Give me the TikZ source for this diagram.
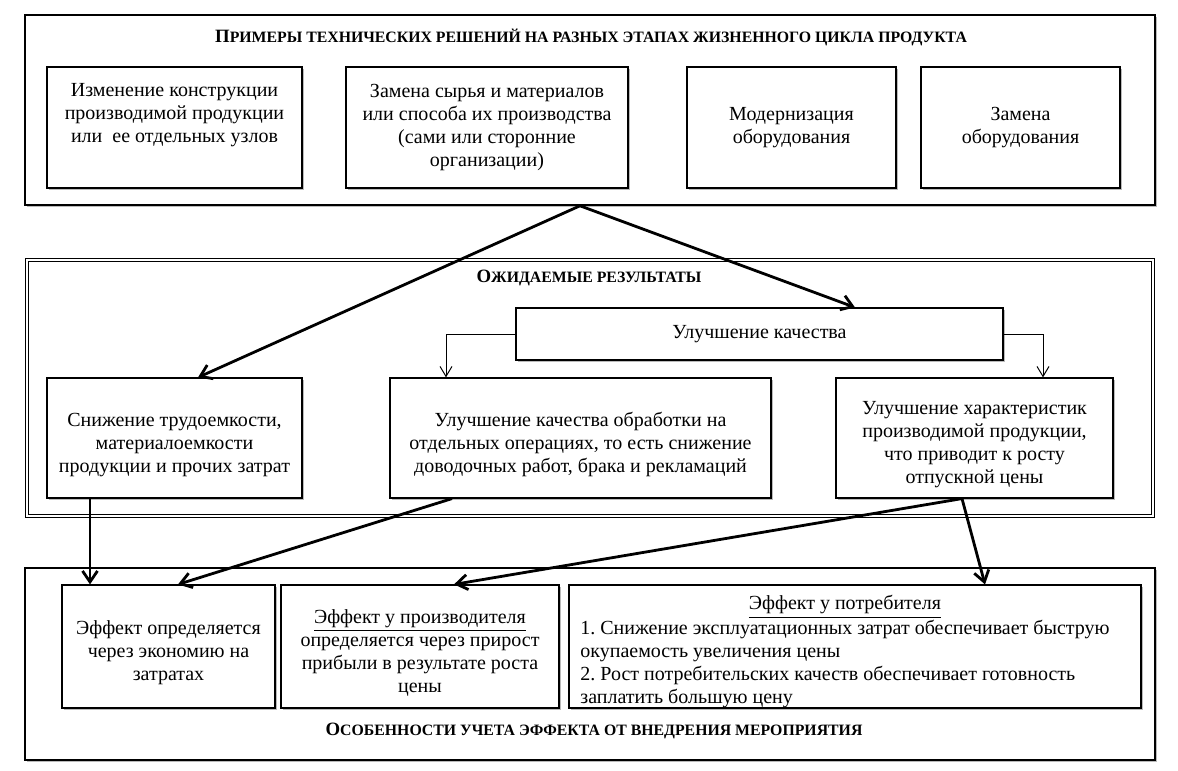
\documentclass[tikz,border=0pt]{standalone}
\usepackage{fontspec}
\setmainfont{Liberation Serif}
\usetikzlibrary{arrows.meta,shadows}
\usepackage{xcolor}
\definecolor{shadowgray}{RGB}{140,140,140}
\setlength\parindent{0pt}
\frenchspacing
\newcommand{\capfirst}[1]{{\fontsize{9.4}{10}\selectfont#1}}
\newcommand{\toppad}{\rule{0pt}{13.5pt}}

\tikzset{
	blk/.style={draw,line width=0.6pt,fill=white,align=center,inner sep=3pt,font=\fontsize{10}{11.5}\selectfont,drop shadow={shadow xshift=1pt,shadow yshift=-1pt,fill=shadowgray,opacity=0.6}},
	frm/.style={draw,line width=0.8pt,fill=white,drop shadow={shadow xshift=1pt,shadow yshift=-1pt,fill=shadowgray,opacity=0.6}},
	ttl/.style={font=\bfseries\fontsize{7.9}{10}\selectfont},
	big/.style={-{Straight Barb[length=5.5pt,width=7.5pt]},line width=1.4pt},
	thn/.style={-{Straight Barb[length=5pt,width=6pt]},line width=0.5pt}
}

\begin{document}
\begin{tikzpicture}[x=0.5pt,y=-0.5pt]
	\useasboundingbox (0,0) rectangle (1178,771);
	\node(prim) at (590,110)[frm,minimum width=565pt,minimum height=95pt]{};
	\node(ozh) at (590,388)[frm,line width=0.5pt,double,double distance=1pt,minimum width=563pt,minimum height=128pt]{};
	\node(osob) at (590,664)[frm,minimum width=565pt,minimum height=96pt]{};

	\node(t1) at (591,37)[ttl]{\capfirst{П}РИМЕРЫ ТЕХНИЧЕСКИХ РЕШЕНИЙ НА РАЗНЫХ ЭТАПАХ ЖИЗНЕННОГО ЦИКЛА ПРОДУКТА};
	\node(t2) at (589,278)[ttl]{\capfirst{О}ЖИДАЕМЫЕ РЕЗУЛЬТАТЫ};
	\node(t3) at (594,731)[ttl]{\capfirst{О}СОБЕННОСТИ УЧЕТА ЭФФЕКТА ОТ ВНЕДРЕНИЯ МЕРОПРИЯТИЯ};

	\node(izm) at (174.5,127.5)[blk,minimum width=127.5pt,minimum height=60.5pt]{Изменение конструкции\\производимой продукции\\или~ ее отдельных узлов\\\strut};
	\node(zam) at (487,127.5)[blk,minimum width=141pt,minimum height=60.5pt]{Замена сырья и материалов\\или способа их производства\\(сами или сторонние\\организации)};
	\node(mod) at (791.5,127.5)[blk,minimum width=104.5pt,minimum height=60.5pt]{Модернизация\\оборудования};
	\node(zob) at (1020.5,127.5)[blk,minimum width=99.5pt,minimum height=60.5pt]{Замена\\оборудования};

	\node(kach) at (759.5,334)[blk,minimum width=243.5pt,minimum height=26pt]{Улучшение качества};
	\node(trud) at (174.5,438)[blk,minimum width=127.5pt,minimum height=60pt]{\toppad Снижение трудоемкости,\\материалоемкости\\продукции и прочих затрат};
	\node(obr) at (580.5,438)[blk,minimum width=190.5pt,minimum height=60pt]{\toppad Улучшение качества обработки на\\отдельных операциях, то есть снижение\\доводочных работ, брака и рекламаций};
	\node(har) at (974.5,438)[blk,minimum width=138.5pt,minimum height=60pt]{\toppad Улучшение характеристик\\производимой продукции,\\что приводит к росту\\отпускной цены};

	\node(ekon) at (168.5,646.5)[blk,minimum width=106.5pt,minimum height=61.5pt]{\toppad Эффект определяется\\через экономию на\\затратах};
	\node(proizv) at (420,646.5)[blk,minimum width=139pt,minimum height=61.5pt]{\toppad\underline{Эффект у производителя}\\определяется через прирост\\прибыли в результате роста\\цены};
	\node(potr) at (855,646.5)[blk,minimum width=286pt,minimum height=61.5pt,inner ysep=0pt]{\begin{tabular}{@{}l@{}}
		\multicolumn{1}{@{}c@{}}{\rule{0pt}{12pt}\underline{Эффект у потребителя}}\\
		1. Снижение эксплуатационных затрат обеспечивает быструю\\
		окупаемость увеличения цены\\
		2. Рост потребительских качеств обеспечивает готовность\\
		заплатить большую цену\\[-1.5pt]
	\end{tabular}\hspace*{10pt}};

	\draw[big]([xshift=-5pt]prim.south) to ([xshift=11.75pt]trud.north);
	\draw[big]([xshift=-5pt]prim.south) to ([xshift=47.75pt]kach.north);
	\draw[thn](kach.west) -| ([xshift=-67.25pt]obr.north);
	\draw[thn](kach.east) -| ([xshift=34.25pt]har.north);
	\draw[big]([xshift=-42.25pt]trud.south) to ([xshift=-42.25pt]trud.south |- ekon.north);
	\draw[big]([xshift=-64.25pt]obr.south) to ([xshift=4.75pt]ekon.north);
	\draw[big]([xshift=-6.25pt]har.south) to ([xshift=17pt]proizv.north);
	\draw[big]([xshift=-6.25pt]har.south) to ([xshift=65pt]potr.north);
\end{tikzpicture}
\end{document}
